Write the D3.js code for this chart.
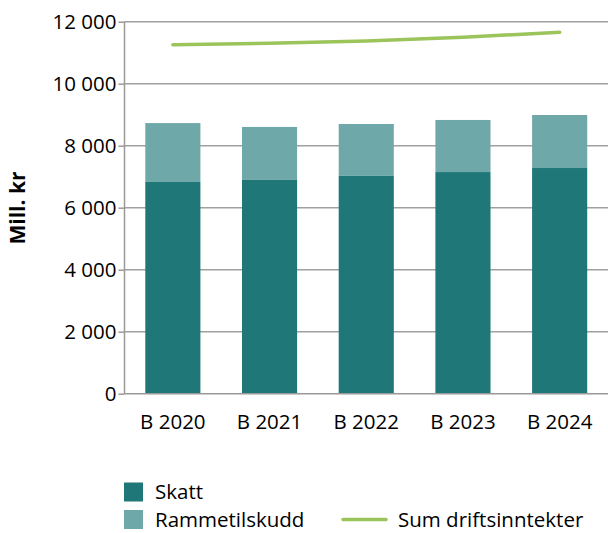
<!DOCTYPE html>
<html lang="no">
<head>
    <meta charset="UTF-8">
    <title>Driftsinntekter</title>
    <script src="https://d3js.org/d3.v7.min.js"></script>
    <style>
        body, html {
            margin: 0;
            background: #ffffff;
            font-family: 'Open Sans', sans-serif;
        }
        .tick text, .legend text {
            font-size: 20.5px;
            fill: #000;
        }
    </style>
</head>
<body>
<svg id="chart" width="608" height="533"></svg>
<script>
    // data (mill. kr)
    const years = ["B 2020", "B 2021", "B 2022", "B 2023", "B 2024"];
    const skatt = [6830, 6895, 7025, 7150, 7280];
    const rammetilskudd = [1900, 1710, 1675, 1680, 1710];
    const sumDrift = [11258, 11303, 11377, 11497, 11658];
    const yTicks = [0, 2000, 4000, 6000, 8000, 10000, 12000];

    const svg = d3.select("#chart");
    const plotLeft = 124.5, plotRight = 608, plotTop = 21.7, plotBottom = 393.7;

    const x = d3.scaleBand().domain(years).range([plotLeft, plotRight]).paddingInner(0.43).paddingOuter(0.215);
    const y = d3.scaleLinear().domain([0, 12000]).range([plotBottom, plotTop]);

    const fmt = v => d3.format(",")(v).replace(/,/g, " ");

    // gridlines
    svg.append("g")
        .selectAll("line")
        .data(yTicks.slice(1))
        .join("line")
        .attr("x1", plotLeft).attr("x2", plotRight)
        .attr("y1", d => y(d)).attr("y2", d => y(d))
        .attr("stroke", "#a0a0a0")
        .attr("stroke-width", 1.5);

    // stacked bars
    const rows = years.map((yr, i) => ({ yr, skatt: skatt[i], ramme: rammetilskudd[i] }));
    const stack = d3.stack().keys(["skatt", "ramme"])(rows);
    const colors = { skatt: "#1f7777", ramme: "#6fa8a8" };

    svg.append("g")
        .selectAll("g")
        .data(stack)
        .join("g")
        .attr("fill", d => colors[d.key])
        .selectAll("rect")
        .data(d => d)
        .join("rect")
        .attr("x", d => x(d.data.yr))
        .attr("width", x.bandwidth())
        .attr("y", d => y(d[1]))
        .attr("height", d => y(d[0]) - y(d[1]));

    // line
    const line = d3.line()
        .x((d, i) => x(years[i]) + x.bandwidth() / 2)
        .y(d => y(d))
        .curve(d3.curveMonotoneX);

    svg.append("path")
        .datum(sumDrift)
        .attr("d", line)
        .attr("fill", "none")
        .attr("stroke", "#9bc45b")
        .attr("stroke-width", 3.5)
        .attr("stroke-linecap", "round");

    // y axis
    const yAxis = svg.append("g")
        .attr("transform", `translate(${plotLeft},0)`)
        .call(d3.axisLeft(y).tickValues(yTicks).tickFormat(fmt).tickSize(6).tickPadding(2));
    yAxis.selectAll("line, path").attr("stroke", "#999").attr("stroke-width", 1.5);
    yAxis.select(".domain").attr("d", `M0,${plotTop}V${plotBottom}`);
    yAxis.selectAll("text").attr("font-family", "'Open Sans', sans-serif");

    // x axis
    const xAxis = svg.append("g")
        .attr("transform", `translate(0,${plotBottom})`)
        .call(d3.axisBottom(x).tickSize(0).tickPadding(21));
    xAxis.select(".domain").attr("d", `M${plotLeft},0H${plotRight}`).attr("stroke", "#999").attr("stroke-width", 1.5);
    xAxis.selectAll("text").attr("font-family", "'Open Sans', sans-serif");

    // y title
    svg.append("text")
        .attr("transform", "translate(25,208) rotate(-90)")
        .attr("text-anchor", "middle")
        .attr("font-family", "'Open Sans', sans-serif")
        .attr("font-weight", "bold")
        .attr("font-size", 21)
        .text("Mill. kr");

    // legend
    const legend = svg.append("g").attr("class", "legend");
    const items = [
        { label: "Skatt", type: "rect", color: colors.skatt, x: 124, y: 492 },
        { label: "Rammetilskudd", type: "rect", color: colors.ramme, x: 124, y: 519.5 },
        { label: "Sum driftsinntekter", type: "line", color: "#9bc45b", x: 343, y: 519.5 }
    ];
    items.forEach(it => {
        if (it.type === "rect") {
            legend.append("rect")
                .attr("x", it.x).attr("y", it.y - 9.5)
                .attr("width", 19).attr("height", 19)
                .attr("fill", it.color);
        } else {
            legend.append("line")
                .attr("x1", it.x).attr("x2", it.x + 43)
                .attr("y1", it.y).attr("y2", it.y)
                .attr("stroke", it.color).attr("stroke-width", 3.5)
                .attr("stroke-linecap", "round");
        }
        legend.append("text")
            .attr("x", it.type === "rect" ? it.x + 31 : it.x + 55)
            .attr("y", it.y)
            .attr("dy", "0.35em")
            .attr("font-family", "'Open Sans', sans-serif")
            .text(it.label);
    });
</script>
</body>
</html>
